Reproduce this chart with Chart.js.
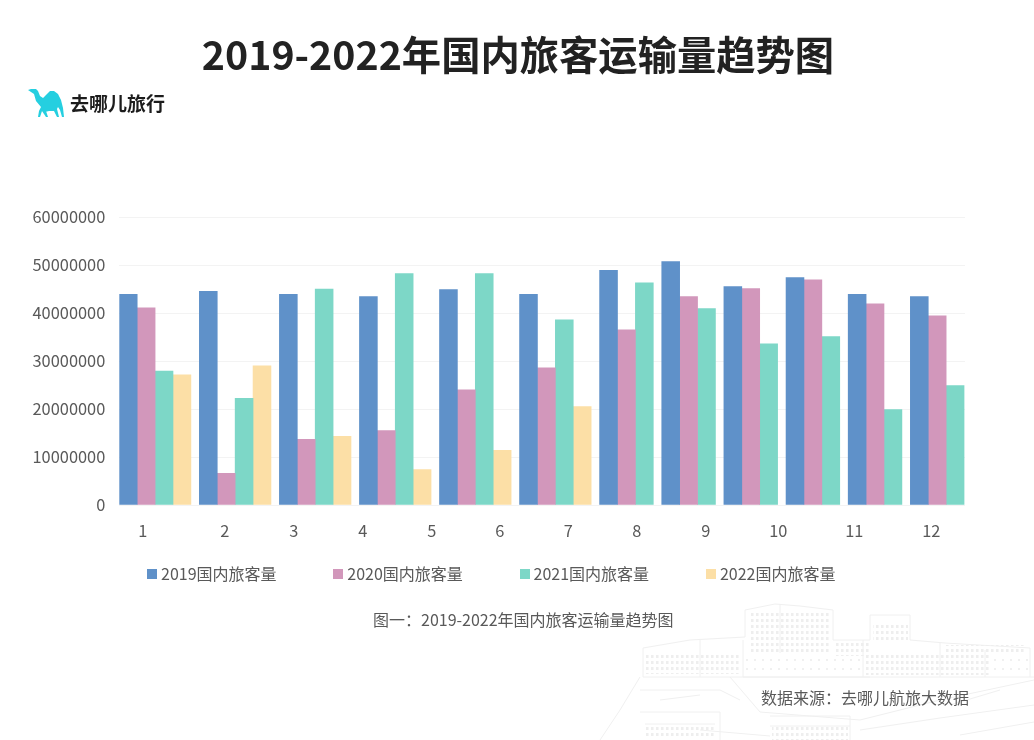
<!DOCTYPE html>
<html lang="zh">
<head>
<meta charset="utf-8">
<title>2019-2022年国内旅客运输量趋势图</title>
<script src="https://cdn.jsdelivr.net/npm/chart.js@4/dist/chart.umd.js"></script>
<style>
    html, body { margin: 0; padding: 0; background: #fff; }
    body { width: 1034px; height: 740px; position: relative; overflow: hidden; font-family: "Noto Sans CJK SC", "Noto Sans", sans-serif; color: #595959; }
    #palace { position: absolute; left: 0; top: 0; }
    #chartWrap { position: absolute; left: 0; top: 0; width: 1034px; height: 740px; }
    .txt { position: absolute; white-space: nowrap; line-height: 1; }
    #title { left: 0; width: 1036px; top: 33px; text-align: center; font-size: 39.3px; font-weight: 700; color: #222; }
    #logoText { left: 70px; top: 93px; font-size: 19px; font-weight: 700; color: #1c1c1c; }
    #caption { left: 373px; top: 611px; font-size: 16px; }
    #source { left: 761px; top: 689px; font-size: 16px; }
    #legend .box { position: absolute; width: 10px; height: 10px; top: 569px; }
    #legend .txt { top: 565px; font-size: 16px; }
</style>
</head>
<body>
<svg id="palace" width="1034" height="740" viewBox="0 0 1034 740" fill="none" stroke="#f0f0f0" stroke-width="1">
    <defs>
        <pattern id="windows" width="5" height="6" patternUnits="userSpaceOnUse">
            <rect x="1" y="1" width="2.5" height="3" fill="#eeeeee" stroke="none"/>
        </pattern>
        <pattern id="windowsWide" width="8" height="9" patternUnits="userSpaceOnUse">
            <rect x="2" y="2" width="2" height="2" fill="#f0f0f0" stroke="none"/>
        </pattern>
    </defs>
    <path d="M643 677 L643 648 L690 640 L745 637 L745 610 L775 604 L800 606 L833 610 L833 640 L870 640 L870 615 L910 615 L910 640 L945 643 L1030 648 L1030 677"/>
    <path d="M743 640 L743 677 L870 677 M863 640 L863 677 M643 677 L1034 677"/>
    <path d="M700 640 L700 677 M780 604 L780 653 M940 643 L940 677 M985 650 L985 677"/>
    <path d="M640 677 L620 710 L600 740 M640 690 L720 690 L740 700 M730 677 L760 712 L860 720 L940 700 L1034 680"/>
    <path d="M640 712 L720 712 L720 740 M645 724 L715 724 M770 716 L850 716 L850 740 M770 726 L850 726"/>
    <path d="M860 730 L940 718 L1034 705 M700 730 L770 736 M960 735 L1034 722 M660 700 L700 695 M950 705 L1000 690"/>
    <rect x="749" y="612" width="82" height="40" fill="url(#windows)" stroke="none"/>
    <rect x="835" y="640" width="34" height="16" fill="url(#windows)" stroke="none"/>
    <rect x="873" y="622" width="35" height="18" fill="url(#windows)" stroke="none"/>
    <rect x="645" y="652" width="95" height="22" fill="url(#windows)" stroke="none"/>
    <rect x="865" y="655" width="125" height="20" fill="url(#windows)" stroke="none"/>
    <rect x="945" y="645" width="80" height="10" fill="url(#windows)" stroke="none"/>
    <rect x="745" y="655" width="118" height="20" fill="url(#windowsWide)" stroke="none"/>
    <rect x="990" y="655" width="38" height="20" fill="url(#windowsWide)" stroke="none"/>
    <rect x="645" y="726" width="70" height="13" fill="url(#windows)" stroke="none"/>
    <rect x="772" y="727" width="76" height="13" fill="url(#windows)" stroke="none"/>
</svg>
<div id="chartWrap"><canvas id="tripChart" width="1034" height="740"></canvas></div>
<div class="txt" id="title">2019-2022年国内旅客运输量趋势图</div>
<svg style="position:absolute;left:28px;top:87px" width="38" height="32" viewBox="0 0 38 32" fill="#25cfe0">
    <path d="M0 3 L3 2 L8 2 L10 4 L12 9 L15 11 L18 8 L22 4 L26 4 L30 7 L33 13 L35 21 L36 30 L34 30 L32 23 L30 20 L29 22 L31 30 L29 30 L26 24 L21 24 L17 25 L14 24 L12 30 L10 30 L11 24 L13 20 L8 14 L6 7 L3 5 Z"/>
    <path d="M14 24 L18 24 L20 30 L18 30 Z"/>
</svg>
<div class="txt" id="logoText">去哪儿旅行</div>
<div id="legend"></div>
<div class="txt" id="caption">图一：2019-2022年国内旅客运输量趋势图</div>
<div class="txt" id="source">数据来源：去哪儿航旅大数据</div>

<script>
const months = ['1', '2', '3', '4', '5', '6', '7', '8', '9', '10', '11', '12'];
const yTicks = [0, 10000000, 20000000, 30000000, 40000000, 50000000, 60000000];

const seriesNames = ['2019国内旅客量', '2020国内旅客量', '2021国内旅客量', '2022国内旅客量'];
const seriesColors = ['#5f91c9', '#d297bb', '#7dd7c7', '#fcdfa6'];

const trips2019 = [43900000, 44500000, 43900000, 43400000, 44900000, 43900000, 48900000, 50700000, 45500000, 47400000, 43900000, 43400000];
const trips2020 = [41100000, 6600000, 13700000, 15500000, 24000000, 28600000, 36500000, 43400000, 45100000, 46900000, 41900000, 39400000];
const trips2021 = [27900000, 22200000, 45000000, 48200000, 48200000, 38600000, 46300000, 40900000, 33600000, 35100000, 19900000, 24900000];
const trips2022 = [27100000, 29000000, 14300000, 7400000, 11400000, 20500000, null, null, null, null, null, null];
const allSeries = [trips2019, trips2020, trips2021, trips2022];

// o eixo x é linear porque a largura de cada mês depende de quantas barras ele tem
const BAR_W = 17.9;
const GROUP_GAP = 8.45;
const PLOT_LEFT = 119.3;
const PLOT_RIGHT = 965;
const PLOT_TOP = 217;
const PLOT_BOTTOM = 505;

// os rótulos do original não ficam centrados nos grupos
const monthLabelOffsets = [23.5, 105.5, 174.5, 243.5, 312.5, 380.5, 449, 517.5, 586.5, 659, 735, 812];

let cursor = 0;
const barX = allSeries.map(() => []);
months.forEach((m, i) => {
    let slot = 0;
    allSeries.forEach((values, s) => {
        if (values[i] !== null) {
            barX[s][i] = cursor + slot * BAR_W + BAR_W / 2;
            slot++;
        } else {
            barX[s][i] = null;
        }
    });
    cursor += slot * BAR_W + GROUP_GAP;
});

const datasets = allSeries.map((values, s) => ({
    label: seriesNames[s],
    data: values.map((v, i) => ({ x: barX[s][i], y: v })).filter(p => p.y !== null),
    backgroundColor: seriesColors[s],
    borderWidth: 0,
    barThickness: BAR_W,
    grouped: false
}));

const tickFont = { family: '"Noto Sans CJK SC"', size: 16.4 };

const chart = new Chart(document.getElementById('tripChart'), {
    type: 'bar',
    data: { datasets: datasets },
    options: {
        responsive: false,
        animation: false,
        layout: { padding: { left: 0, right: 1034 - PLOT_RIGHT, top: PLOT_TOP, bottom: 740 - PLOT_BOTTOM - 42 } },
        plugins: { legend: { display: false }, tooltip: { enabled: false }, title: { display: false } },
        scales: {
            x: {
                type: 'linear',
                offset: false,
                min: 0,
                max: PLOT_RIGHT - PLOT_LEFT,
                border: { display: false },
                grid: { display: false },
                afterBuildTicks: (scale) => { scale.ticks = monthLabelOffsets.map(v => ({ value: v })); },
                afterFit: (scale) => { scale.height = 42; },
                ticks: {
                    autoSkip: false,
                    maxRotation: 0,
                    padding: 8,
                    color: '#595959',
                    font: tickFont,
                    callback: (value, index) => months[index]
                }
            },
            y: {
                min: 0,
                max: 60000000,
                border: { display: false },
                afterBuildTicks: (scale) => { scale.ticks = yTicks.map(v => ({ value: v })); },
                afterFit: (scale) => { scale.width = PLOT_LEFT; },
                grid: { color: '#f3f3f3', lineWidth: 1, drawTicks: false },
                ticks: {
                    padding: 14,
                    color: '#595959',
                    font: tickFont,
                    callback: (value) => String(value)
                }
            }
        }
    }
});

// legenda em HTML, montada a partir dos datasets
const legendEl = document.getElementById('legend');
chart.data.datasets.forEach((ds, i) => {
    const left = 147 + i * 186.3;
    const box = document.createElement('div');
    box.className = 'box';
    box.style.left = left + 'px';
    box.style.background = ds.backgroundColor;
    const label = document.createElement('div');
    label.className = 'txt';
    label.style.left = (left + 14) + 'px';
    label.textContent = ds.label;
    legendEl.appendChild(box);
    legendEl.appendChild(label);
});
</script>
</body>
</html>
